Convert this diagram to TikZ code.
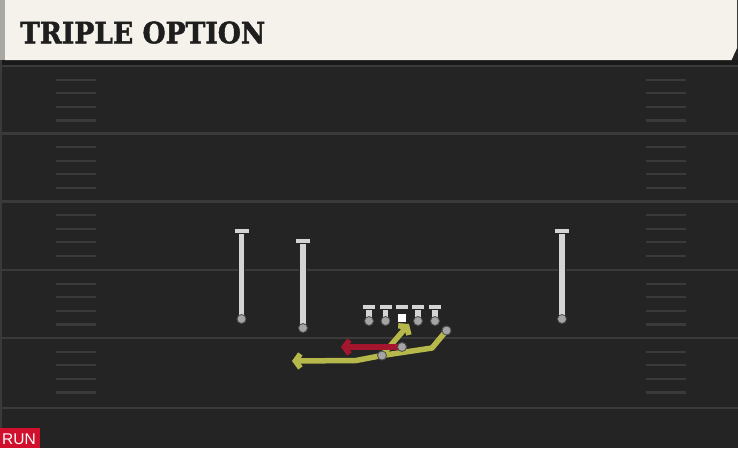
\documentclass[tikz,border=0pt]{standalone}
\usepackage{fontspec}
\newfontfamily\headfont{DejaVu Serif}[FakeBold=1.6]
\newfontfamily\runfont{Liberation Sans}
\usetikzlibrary{arrows.meta}
\definecolor{field}{HTML}{242424}
\definecolor{cream}{HTML}{F4F2EB}
\definecolor{strip}{HTML}{A8A8A4}
\definecolor{yardc}{HTML}{3A3A3A}
\definecolor{hashc}{HTML}{3A3A3A}
\definecolor{playerc}{HTML}{D4D4D2}
\definecolor{dotc}{HTML}{A4A4A4}
\definecolor{routey}{HTML}{B7B84B}
\definecolor{router}{HTML}{A3162E}
\definecolor{runred}{HTML}{D0102C}
\definecolor{headtext}{HTML}{1E1E1E}
\tikzset{
  yard/.style={draw=yardc, line width=2.2pt},
  hashmark/.style={draw=hashc, line width=2.2pt},
  stem/.style={draw=playerc, line width=5.5pt},
  stemout/.style={draw=black!85, line width=7.5pt},
  tbar/.style={fill=playerc, draw=black!85, line width=1pt},
  pdot/.style={circle, fill=dotc, draw=black!70, line width=0.8pt, minimum size=9pt, inner sep=0pt},
  yroute/.style={draw=routey, line width=5.5pt, line join=round, -{Straight Barb[length=5pt,width=14pt]}},
  rroute/.style={draw=router, line width=5.5pt, -{Straight Barb[length=5pt,width=14pt]}},
}
\newcommand\wideout[4]{% name, x, ytop, ybot
  \draw[stemout] (#2,#3) -- (#2,#4);
  \draw[stem] (#2,#3) -- (#2,#4);
  \draw[tbar] (#2-7.5,#3-3) rectangle (#2+7.5,#3+2.5);
  \node[pdot] (#1) at (#2,#4) {};
}
\newcommand\lineman[2]{% name, x
  \draw[stemout] (#2,307) -- (#2,320);
  \draw[stem] (#2,307) -- (#2,320);
  \draw[tbar] (#2-6.5,304.5) rectangle (#2+6.5,309);
  \node[pdot] (#1) at (#2,321) {};
}
\begin{document}
\begin{tikzpicture}[x=1pt,y=-1pt]
\useasboundingbox (0,0) rectangle (738,448);
\fill[field] (0,0) rectangle (738,448);
\fill[black!90] (0,60) rectangle (738,65);
\draw[yardc, line width=2pt] (1,60) -- (1,448);
% yard lines and hashes
\foreach \y in {66,133.5,201.5,270,338,408} \draw[yard] (2,\y) -- (738,\y);
\foreach \y in {66,133.5,201.5,270,338} {
  \foreach \k in {1,2,3,4} {
    \draw[hashmark] (56,{\y+13.6*\k}) -- (96,{\y+13.6*\k});
    \draw[hashmark] (646,{\y+13.6*\k}) -- (686,{\y+13.6*\k});
  }
}
% header
\fill[cream] (5,0) -- (737,0) -- (737,48) -- (731.5,60) -- (5,60) -- cycle;
\fill[strip] (0,0) rectangle (5,60);
\node[anchor=base west, inner sep=0pt, text=headtext, font=\headfont\bfseries\fontsize{29.5}{30}\selectfont, xscale=0.9] (title) at (20,43.3) {TRIPLE OPTION};
% run tag
\fill[runred] (0,428) rectangle (40,448);
\node[text=white, font=\runfont\fontsize{15.5}{16}\selectfont, inner sep=0pt, anchor=base] (run) at (19,444.5) {RUN};
% receivers
\wideout{wrl}{241.5}{231}{319}
\wideout{wrs}{303}{241}{328}
\wideout{wrr}{562}{231}{319}
% line
\lineman{lt}{369}
\lineman{lg}{385.5}
\lineman{rg}{418}
\lineman{rt}{435}
\draw[tbar] (395.5,304.5) rectangle (408.5,309);
\node[fill=white, draw=black!85, line width=0.8pt, minimum width=8.5pt, minimum height=9pt, inner sep=0pt] (ctr) at (402,317.5) {};
% routes
\node[pdot] (qb) at (402,347) {};
\node[pdot] (fb) at (382,355.5) {};
\node[pdot] (pb) at (446.5,330.5) {};
\coordinate (dive) at (409,324);
\coordinate (keep) at (341,347);
\coordinate (pitch) at (292,361);
\draw[yroute] (pb.center) -- (432,348) -- (fb.center) -- (356,360.5) -- (pitch);
\draw[yroute] (fb.center) -- (dive);
\draw[rroute] (qb.center) -- (keep);
\node[pdot] at (qb) {};
\node[pdot] at (fb) {};
\node[pdot] at (pb) {};
\end{tikzpicture}
\end{document}
